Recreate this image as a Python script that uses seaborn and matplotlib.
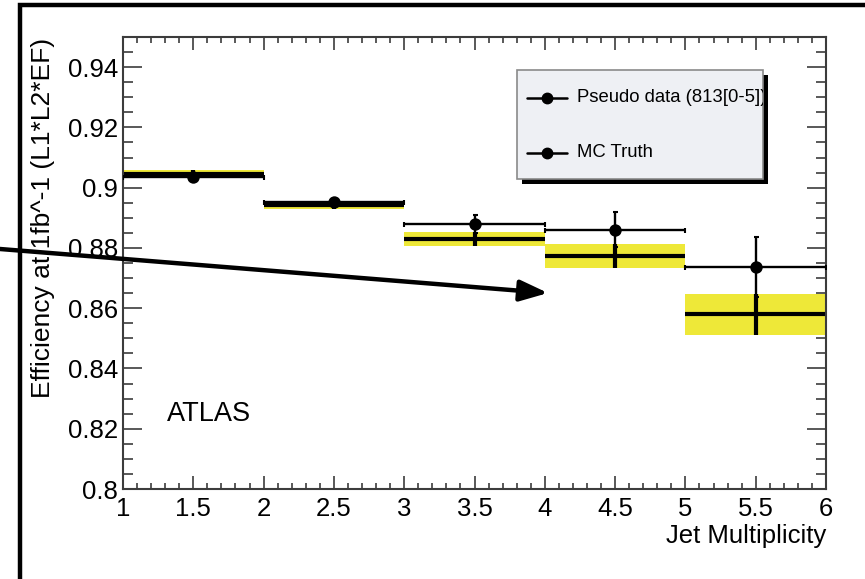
import matplotlib
matplotlib.use("Agg")
import matplotlib.pyplot as plt
from matplotlib.ticker import MultipleLocator, FuncFormatter
from matplotlib.patches import Rectangle, FancyArrowPatch
from matplotlib.lines import Line2D
import seaborn as sns
import pandas as pd

# Jet multiplicity bins (edges 1..6, one unit wide)
bin_centers = [1.5, 2.5, 3.5, 4.5, 5.5]
bin_half_width = 0.5

# Pseudo data efficiency and its uncertainty
data_eff = [0.9035, 0.8951, 0.8879, 0.8860, 0.8737]
data_err = [0.0008, 0.0010, 0.0030, 0.0058, 0.0100]

# MC truth efficiency and its uncertainty (yellow band)
mc_eff = [0.9045, 0.8942, 0.8829, 0.8773, 0.8580]
mc_err = [0.0014, 0.0014, 0.0024, 0.0040, 0.0068]

legend_labels = ["Pseudo data (813[0-5])", "MC Truth"]

sns.set_theme(style="ticks")
plt.rcParams["font.family"] = ["Liberation Sans", "DejaVu Sans"]

W, H = 865, 579
fig = plt.figure(figsize=(W / 100, H / 100), dpi=100)
fig.patch.set_facecolor("white")

ax_l, ax_r, ax_t, ax_b = 123, 826, 37, 489
ax = fig.add_axes([ax_l / W, 1 - ax_b / H, (ax_r - ax_l) / W, (ax_b - ax_t) / H])
ax.set_facecolor("white")

frame_col = "#3c3c3c"
band_col = "#eee838"

df = pd.DataFrame({"jets": bin_centers, "data": data_eff, "derr": data_err,
                   "mc": mc_eff, "merr": mc_err})

# MC truth: yellow uncertainty band, thick central line, vertical error
ax.bar(df["jets"], 2 * df["merr"], bottom=df["mc"] - df["merr"],
       width=2 * bin_half_width, color=band_col, linewidth=0, zorder=1)
ax.errorbar(df["jets"], df["mc"], xerr=bin_half_width, yerr=df["merr"],
            fmt="none", ecolor="black", elinewidth=3.0, capsize=0, zorder=2)

# Pseudo data: error bars with small end caps and round markers
ax.errorbar(df["jets"], df["data"], xerr=bin_half_width, yerr=df["derr"],
            fmt="none", ecolor="black", elinewidth=1.7, capsize=1.8,
            capthick=1.5, zorder=3)
sns.scatterplot(data=df, x="jets", y="data", color="black", s=80,
                edgecolor="black", linewidth=0, zorder=4, ax=ax, legend=False)

ax.set_xlim(1, 6)
ax.set_ylim(0.8, 0.95)

fmt = FuncFormatter(lambda v, p: "%g" % round(v, 4))
ax.xaxis.set_major_locator(MultipleLocator(0.5))
ax.xaxis.set_minor_locator(MultipleLocator(0.1))
ax.yaxis.set_major_locator(MultipleLocator(0.02))
ax.yaxis.set_minor_locator(MultipleLocator(0.005))
ax.xaxis.set_major_formatter(fmt)
ax.yaxis.set_major_formatter(fmt)

ax.tick_params(which="both", direction="in", top=True, right=True,
               color=frame_col, width=1.2, labelsize=18.5, labelcolor="black")
ax.tick_params(axis="x", which="major", length=9.5, pad=6)
ax.tick_params(axis="x", which="minor", length=4.5)
ax.tick_params(axis="y", which="major", length=14, pad=3.5)
ax.tick_params(axis="y", which="minor", length=7)

for sp in ax.spines.values():
    sp.set_color(frame_col)
    sp.set_linewidth(1.5)

ax.set_xlabel("Jet Multiplicity", fontsize=18.5, loc="right", color="black")
ax.xaxis.set_label_coords(1.0, -0.078)
ax.set_ylabel("Efficiency at 1fb^-1 (L1*L2*EF)", fontsize=19, loc="top",
              color="black")
ax.yaxis.set_label_coords(-0.097, 0.998)

ax.text(1.313, 0.8225, "ATLAS", fontsize=19.5, color="black", va="baseline")

# Legend box with solid drop shadow (axes fraction coordinates)
bx0, bx1 = (517 - ax_l) / 703, (763 - ax_l) / 703
by1, by0 = (ax_b - 70) / 452, (ax_b - 179) / 452
sdx, sdy = 5 / 703, -5 / 452
ax.add_patch(Rectangle((bx0 + sdx, by0 + sdy), bx1 - bx0, by1 - by0,
                       transform=ax.transAxes, facecolor="black",
                       edgecolor="none", zorder=8, clip_on=False))
box = Rectangle((bx0, by0), bx1 - bx0, by1 - by0, transform=ax.transAxes,
                facecolor="#eef0f4", edgecolor="#8a8a8a", linewidth=1.2,
                zorder=9, clip_on=False)
ax.add_patch(box)
rows_y = [(ax_b - 97.7) / 452, (ax_b - 152.7) / 452]
hx0, hx1, hm = (527 - ax_l) / 703, (567 - ax_l) / 703, (547 - ax_l) / 703
tx = (577 - ax_l) / 703
for ry, lab in zip(rows_y, legend_labels):
    ax.add_line(Line2D([hx0, hx1], [ry, ry], transform=ax.transAxes,
                       color="black", lw=1.8, zorder=10, clip_on=False))
    ax.add_line(Line2D([hm], [ry], transform=ax.transAxes, color="black",
                       marker="o", markersize=7.5, zorder=10, clip_on=False))
    t = ax.text(tx, ry, lab, transform=ax.transAxes, fontsize=13.3,
                va="center", ha="left", color="black", zorder=10)
    t.set_clip_path(box)
    t.set_clip_on(True)

# Annotation arrow across the figure
arrow = FancyArrowPatch((-0.01, 1 - 248.3 / H), (548 / W, 1 - 293 / H),
                        transform=fig.transFigure,
                        arrowstyle="-|>,head_length=0.85,head_width=0.32",
                        mutation_scale=20, color="black", lw=3.2,
                        shrinkA=0, shrinkB=0, zorder=20)
fig.add_artist(arrow)

# Outer frame around the canvas
fig.add_artist(Rectangle((20 / W, -0.2), 1.3, 1.2 - 5 / H,
                         transform=fig.transFigure, facecolor="none",
                         edgecolor="black", linewidth=3.2, zorder=30))

fig.savefig("out.png", dpi=100)
